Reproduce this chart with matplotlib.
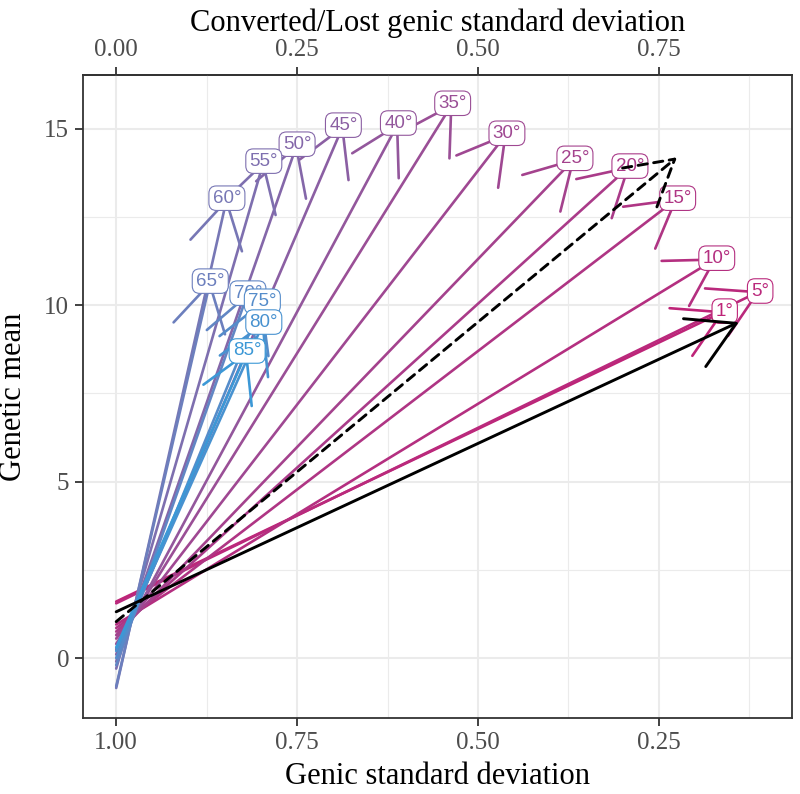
import numpy as np
import matplotlib.pyplot as plt
from matplotlib.colors import LinearSegmentedColormap

plt.rcParams['font.family'] = ['Liberation Serif', 'DejaVu Serif']

# selection angle arrows: start at genic sd 1.0, end at (end_sd, end_mean)
angles = [1, 5, 10, 15, 20, 25, 30, 35, 40, 45, 50, 55, 60, 65, 70, 75, 80, 85]
start_mean = [1.6, 1.55, 0.95, 0.85, 0.75, 0.65, 0.55, 0.4, 0.25, 0.1,
              -0.1, -0.3, -0.85, -0.8, -0.2, 0.0, 0.2, 0.3]
end_sd = [0.159, 0.110, 0.170, 0.224, 0.290, 0.366, 0.460, 0.535, 0.610,
          0.686, 0.750, 0.796, 0.847, 0.870, 0.818, 0.798, 0.796, 0.819]
end_mean = [9.83, 10.40, 11.33, 13.03, 13.94, 14.16, 14.87, 15.72, 15.16,
            15.10, 14.56, 14.08, 13.03, 10.68, 10.34, 10.11, 9.52, 8.70]
start_sd = 1.0

# black reference arrows (solid, dashed)
ref_start_mean = [1.31, 1.03]
ref_end_sd = [0.1395, 0.225]
ref_end_mean = [9.52, 14.19]
ref_styles = ['-', (0, (3.2, 2.2))]

bottom_ticks = [1.0, 0.75, 0.5, 0.25]
top_ticks = [0.0, 0.25, 0.5, 0.75]
y_ticks = [0, 5, 10, 15]

cmap = LinearSegmentedColormap.from_list(
    'ang', [(0, '#BE2478'), (0.4, '#9A4E96'), (0.7, '#7777B5'),
            (0.8, '#6684C2'), (1, '#3C98D6')])

fig = plt.figure(figsize=(8, 7.94), dpi=100)
ax = fig.add_axes([0.104, 0.0957, 0.886, 0.8098])

head = '->,head_length=3.3,head_width=1.9'
for a, y0, x1, y1 in zip(angles, start_mean, end_sd, end_mean):
    c = cmap((a - angles[0]) / (angles[-1] - angles[0]))
    ax.annotate('', xy=(x1, y1), xytext=(start_sd, y0),
                arrowprops=dict(arrowstyle=head, color=c, lw=1.9, shrinkA=0,
                                shrinkB=0, mutation_scale=10), zorder=2)
for a, x1, y1 in zip(angles, end_sd, end_mean):
    c = cmap((a - angles[0]) / (angles[-1] - angles[0]))
    ax.text(x1, y1, '%d°' % a, ha='center', va='center', color=c, fontsize=13.5,
            family=['Liberation Sans', 'DejaVu Sans'], zorder=3,
            bbox=dict(boxstyle='round,pad=0.2,rounding_size=0.4', fc='white',
                      ec=c, lw=0.8))
for y0, x1, y1, ls in zip(ref_start_mean, ref_end_sd, ref_end_mean, ref_styles):
    ax.annotate('', xy=(x1, y1), xytext=(start_sd, y0),
                arrowprops=dict(arrowstyle=head, color='black', lw=2.1, ls=ls,
                                shrinkA=0, shrinkB=0, mutation_scale=10),
                zorder=4)

ax.set_xlim(1.0456, 0.066)
ax.set_ylim(-1.70, 16.52)
ax.set_xticks(bottom_ticks)
ax.set_xticklabels(['%.2f' % t for t in bottom_ticks])
ax.set_xticks([0.875, 0.625, 0.375, 0.125], minor=True)
ax.set_yticks(y_ticks)
ax.set_yticks([2.5, 7.5, 12.5], minor=True)
ax.grid(which='major', color='#EBEBEB', lw=1.5)
ax.grid(which='minor', color='#EBEBEB', lw=0.8)
ax.set_axisbelow(True)
for s in ax.spines.values():
    s.set_color('#333333')
    s.set_linewidth(1.3)
ax.tick_params(which='major', length=6, width=1.3, color='#333333',
               labelsize=18, labelcolor='#4D4D4D', pad=4)
ax.tick_params(which='minor', length=0)

sec = ax.secondary_xaxis('top', functions=(lambda x: 1 - x, lambda x: 1 - x))
sec.set_xticks(top_ticks)
sec.set_xticklabels(['%.2f' % t for t in top_ticks])
sec.tick_params(length=6, width=1.3, color='#333333', labelsize=18,
                labelcolor='#4D4D4D', pad=4)
sec.spines['top'].set_color('#333333')
sec.spines['top'].set_linewidth(1.3)
sec.set_xlabel('Converted/Lost genic standard deviation', fontsize=22, labelpad=6)

ax.set_xlabel('Genic standard deviation', fontsize=22, labelpad=6)
ax.set_ylabel('Genetic mean', fontsize=22, labelpad=12)

fig.savefig('out.png', dpi=100)
